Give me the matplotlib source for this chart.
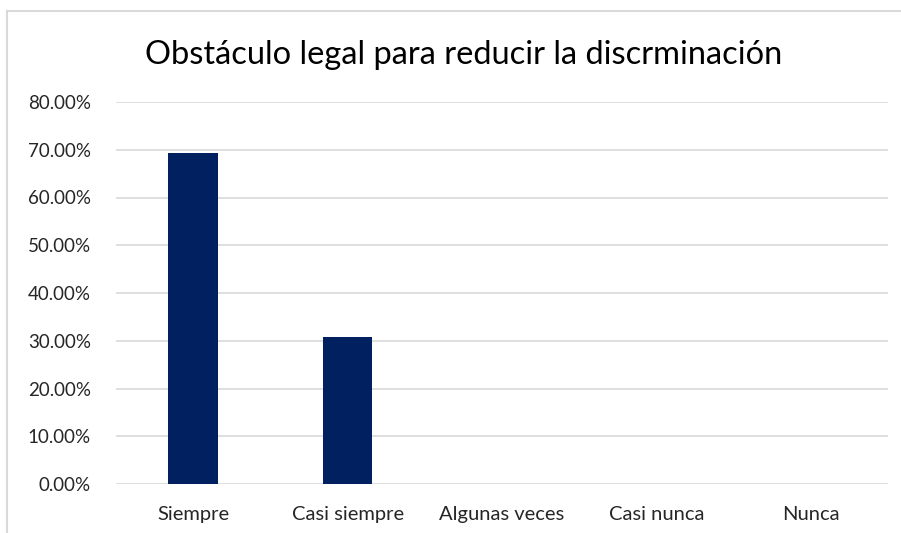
import numpy as np
import matplotlib.pyplot as plt
from matplotlib.lines import Line2D
from matplotlib.ticker import FuncFormatter

categories = ['Siempre', 'Casi siempre', 'Algunas veces', 'Casi nunca', 'Nunca']
values = [69.23, 30.77, 0.0, 0.0, 0.0]
y_ticks = [0, 10, 20, 30, 40, 50, 60, 70, 80]

plt.rcParams['font.family'] = ['Lato', 'DejaVu Sans']

fig = plt.figure(figsize=(9.01, 5.33), dpi=100)
ax = fig.add_axes([116 / 901, 1 - 484 / 533, (888 - 116) / 901, (484 - 102) / 533])

x = np.arange(len(categories))
ax.bar(x, values, width=0.32, color='#002060', zorder=3)

ax.set_xlim(-0.5, len(categories) - 0.5)
ax.set_ylim(0, 80)
ax.set_yticks(y_ticks)
ax.yaxis.set_major_formatter(FuncFormatter(lambda v, p: f'{v:.2f}%'))
ax.set_xticks(x)
ax.set_xticklabels(categories)
ax.tick_params(axis='both', length=0, colors='#262626')
ax.tick_params(axis='x', pad=16, labelsize=14.5)
ax.tick_params(axis='y', pad=18, labelsize=13.5)
ax.grid(axis='y', color='#d9d9d9', lw=1.2, zorder=0)
for s in ax.spines.values():
    s.set_visible(False)

fig.text(464 / 901, 1 - 55 / 533, 'Obstáculo legal para reducir la discrminación',
         ha='center', va='center', fontsize=23.5, color='#000000')

# chart border
fig.add_artist(Line2D([7 / 901, 1], [1 - 11 / 533] * 2, color='#d9d9d9', lw=1.5))
fig.add_artist(Line2D([7 / 901] * 2, [0, 1 - 11 / 533], color='#d9d9d9', lw=1.5))

fig.savefig('out.png', dpi=100)
